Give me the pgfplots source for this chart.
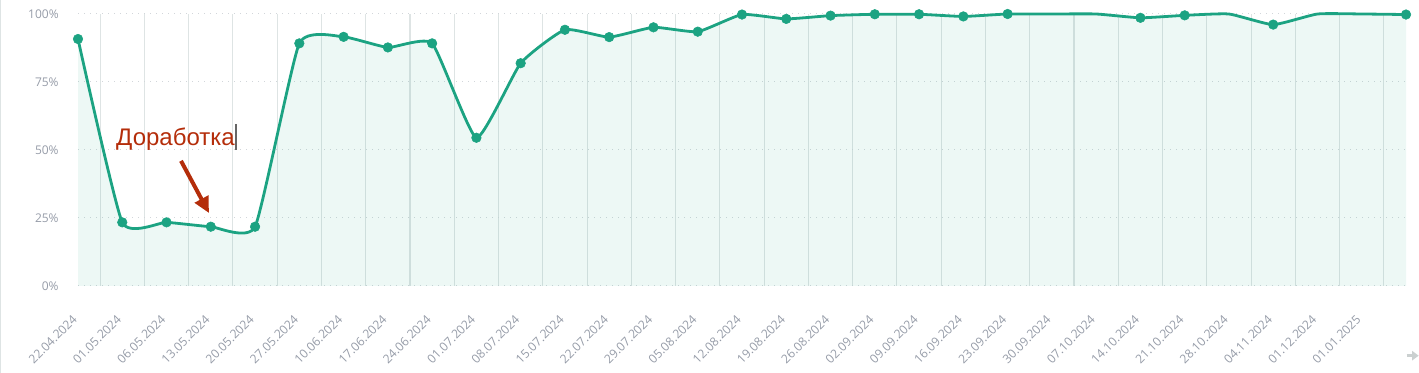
\documentclass[border=0pt]{standalone}
\usepackage{pgfplots}
\pgfplotsset{compat=1.18}
\usepackage{pgfplotstable}
\usepackage{fontspec}
\setmainfont{Open Sans}
\newfontfamily\arial{Liberation Sans}
\usetikzlibrary{arrows.meta}
\definecolor{linec}{RGB}{28,163,130}
\definecolor{vgrid}{RGB}{222,228,228}
\definecolor{hgrid}{RGB}{210,214,218}
\definecolor{ticktext}{RGB}{150,156,168}
\definecolor{annot}{RGB}{180,45,10}

\pgfplotstableread{
x y ym
0 90.8 90.8
1 23.4 23.4
2 23.4 23.4
3 21.8 21.8
4 21.8 21.8
5 89.2 89.2
6 91.6 91.6
7 87.7 87.7
8 89.2 89.2
9 54.5 54.5
10 81.9 81.9
11 94.2 94.2
12 91.5 91.5
13 95.1 95.1
14 93.5 93.5
15 99.8 99.8
16 98.2 98.2
17 99.4 99.4
18 99.9 99.9
19 99.9 99.9
20 99.1 99.1
21 100 100
22 100 nan
23 100 nan
24 98.6 98.6
25 99.5 99.5
26 100 nan
27 96.1 96.1
28 100 nan
29 100 nan
30 99.8 99.8
}\datatable

\begin{document}
\begin{tikzpicture}
\path[use as bounding box] (0,0) rectangle (1064.25pt,279.75pt);
\draw[vgrid, line width=0.75pt] (0.4pt,0) -- (0.4pt,279.75pt);
\begin{axis}[
  at={(58.5pt,65.25pt)}, anchor=south west,
  scale only axis, width=996pt, height=204pt,
  xmin=0, xmax=30, ymin=0, ymax=100,
  clip=false,
  axis line style={draw=none},
  major tick length=0pt, minor tick length=0pt,
  xtick={0,...,29},
  xticklabels={22.04.2024,01.05.2024,06.05.2024,13.05.2024,20.05.2024,27.05.2024,10.06.2024,17.06.2024,24.06.2024,01.07.2024,08.07.2024,15.07.2024,22.07.2024,29.07.2024,05.08.2024,12.08.2024,19.08.2024,26.08.2024,02.09.2024,09.09.2024,16.09.2024,23.09.2024,30.09.2024,07.10.2024,14.10.2024,21.10.2024,28.10.2024,04.11.2024,01.12.2024,01.01.2025},
  minor xtick={0.5,1.5,...,29.5},
  xminorgrids, minor x grid style={vgrid, line width=0.8pt},
  ytick={25,50,75,100},
  yticklabels={25\%,50\%,75\%,100\%},
  ymajorgrids, y grid style={hgrid, line width=0.75pt, dash pattern=on 0.75pt off 3.75pt},
  extra y ticks={0}, extra y tick labels={0\%},
  extra y tick style={grid style={vgrid, solid, line width=1pt}},
  xticklabel style={rotate=45, anchor=east, font=\fontsize{9.1}{10}\selectfont, text=ticktext},
  yticklabel style={font=\fontsize{9}{10}\selectfont, text=ticktext},
  xticklabel shift=21pt,
  yticklabel shift=11pt,
]
\addplot[smooth, tension=0.28, fill=linec, fill opacity=0.08, draw=none] table[x=x,y=y]{\datatable} \closedcycle;
\addplot[smooth, tension=0.28, linec, line width=2.1pt] table[x=x,y=y]{\datatable};
\addplot[only marks, mark=*, mark size=3.6pt, mark options={fill=linec, draw=linec}] table[x=x,y=ym]{\datatable};
\node[anchor=base west, text=annot, font=\arial\fontsize{18}{20}\selectfont, inner sep=0pt] at (axis cs:0.858,51.8) {Доработка};
\draw[black!60, line width=0.8pt] (axis cs:3.569,59.6) -- (axis cs:3.569,50);
\draw[annot, line width=3pt, -{Triangle[width=11pt,length=12pt]}] (axis cs:2.327,46) -- (axis cs:2.96,26.8);
\end{axis}
\draw[vgrid!80!gray, line width=2.5pt, -{Triangle[width=7pt,length=5pt]}] (1055pt,13pt) -- (1064pt,13pt);
\end{tikzpicture}
\end{document}
